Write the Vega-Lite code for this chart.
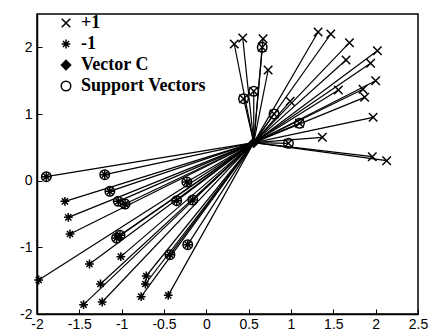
{
  "$schema": "https://vega.github.io/schema/vega-lite/v6.json",
  "width": 381,
  "height": 300,
  "autosize": {"type": "none"},
  "padding": {"left": 37, "top": 14, "right": 14, "bottom": 20},
  "background": "white",
  "config": {
    "view": {"stroke": "black", "strokeWidth": 1.5},
    "axis": {
      "grid": false,
      "domainColor": "black",
      "domainWidth": 1.5,
      "tickColor": "black",
      "tickSize": -5,
      "tickWidth": 1,
      "labelFont": "Liberation Sans",
      "labelFontSize": 14,
      "labelColor": "black",
      "labelOverlap": false,
      "labelBound": false,
      "labelFlush": false,
      "title": null
    },
    "legend": {
      "title": null,
      "orient": "none",
      "legendX": 20,
      "legendY": 0,
      "labelFont": "Liberation Serif",
      "labelFontSize": 18,
      "labelFontWeight": "bold",
      "labelColor": "black",
      "labelOffset": 6,
      "symbolStrokeWidth": 1.5,
      "rowPadding": 3
    }
  },
  "data": {
    "values": [
      {"x": 0.56, "y": 0.57, "cls": "Vector C", "sv": null},
      {"x": 0.33, "y": 2.05, "cls": "+1", "sv": null},
      {"x": 0.43, "y": 2.14, "cls": "+1", "sv": null},
      {"x": 0.67, "y": 2.13, "cls": "+1", "sv": null},
      {"x": 0.66, "y": 2.0, "cls": "+1", "sv": "Support Vectors"},
      {"x": 0.73, "y": 1.66, "cls": "+1", "sv": null},
      {"x": 1.32, "y": 2.23, "cls": "+1", "sv": null},
      {"x": 1.47, "y": 2.2, "cls": "+1", "sv": null},
      {"x": 1.69, "y": 2.07, "cls": "+1", "sv": null},
      {"x": 2.02, "y": 1.95, "cls": "+1", "sv": null},
      {"x": 1.65, "y": 1.81, "cls": "+1", "sv": null},
      {"x": 1.94, "y": 1.76, "cls": "+1", "sv": null},
      {"x": 2.0, "y": 1.5, "cls": "+1", "sv": null},
      {"x": 1.85, "y": 1.37, "cls": "+1", "sv": null},
      {"x": 1.87, "y": 1.25, "cls": "+1", "sv": null},
      {"x": 1.56, "y": 1.36, "cls": "+1", "sv": null},
      {"x": 1.97, "y": 0.95, "cls": "+1", "sv": null},
      {"x": 1.37, "y": 0.65, "cls": "+1", "sv": null},
      {"x": 1.96, "y": 0.36, "cls": "+1", "sv": null},
      {"x": 2.13, "y": 0.3, "cls": "+1", "sv": null},
      {"x": 0.99, "y": 1.19, "cls": "+1", "sv": null},
      {"x": 0.44, "y": 1.23, "cls": "+1", "sv": "Support Vectors"},
      {"x": 0.56, "y": 1.34, "cls": "+1", "sv": "Support Vectors"},
      {"x": 0.8, "y": 1.0, "cls": "+1", "sv": "Support Vectors"},
      {"x": 1.1, "y": 0.86, "cls": "+1", "sv": "Support Vectors"},
      {"x": 0.97, "y": 0.56, "cls": "+1", "sv": "Support Vectors"},
      {"x": -1.67, "y": -0.31, "cls": "-1", "sv": null},
      {"x": -1.63, "y": -0.55, "cls": "-1", "sv": null},
      {"x": -1.61, "y": -0.8, "cls": "-1", "sv": null},
      {"x": -1.38, "y": -1.25, "cls": "-1", "sv": null},
      {"x": -1.98, "y": -1.49, "cls": "-1", "sv": null},
      {"x": -1.01, "y": -1.14, "cls": "-1", "sv": null},
      {"x": -1.25, "y": -1.55, "cls": "-1", "sv": null},
      {"x": -1.45, "y": -1.86, "cls": "-1", "sv": null},
      {"x": -1.23, "y": -1.82, "cls": "-1", "sv": null},
      {"x": -0.71, "y": -1.43, "cls": "-1", "sv": null},
      {"x": -0.72, "y": -1.55, "cls": "-1", "sv": null},
      {"x": -0.77, "y": -1.74, "cls": "-1", "sv": null},
      {"x": -0.45, "y": -1.72, "cls": "-1", "sv": null},
      {"x": -1.89, "y": 0.06, "cls": "-1", "sv": "Support Vectors"},
      {"x": -1.2, "y": 0.09, "cls": "-1", "sv": "Support Vectors"},
      {"x": -1.14, "y": -0.16, "cls": "-1", "sv": "Support Vectors"},
      {"x": -1.04, "y": -0.31, "cls": "-1", "sv": "Support Vectors"},
      {"x": -0.96, "y": -0.35, "cls": "-1", "sv": "Support Vectors"},
      {"x": -1.06, "y": -0.86, "cls": "-1", "sv": "Support Vectors"},
      {"x": -1.02, "y": -0.82, "cls": "-1", "sv": "Support Vectors"},
      {"x": -0.23, "y": -0.02, "cls": "-1", "sv": "Support Vectors"},
      {"x": -0.35, "y": -0.3, "cls": "-1", "sv": "Support Vectors"},
      {"x": -0.16, "y": -0.29, "cls": "-1", "sv": "Support Vectors"},
      {"x": -0.43, "y": -1.11, "cls": "-1", "sv": "Support Vectors"},
      {"x": -0.22, "y": -0.96, "cls": "-1", "sv": "Support Vectors"}
    ]
  },
  "layer": [
    {
      "transform": [{"filter": "datum.cls != 'Vector C'"}],
      "mark": {"type": "rule", "color": "black", "strokeWidth": 1.2, "clip": true},
      "encoding": {
        "x": {"field": "x", "type": "quantitative", "scale": {"domain": [-2, 2.5], "nice": false, "zero": false},
          "axis": {"values": [-2, -1.5, -1, -0.5, 0, 0.5, 1, 1.5, 2, 2.5], "labelExpr": "toString(datum.value)", "labelPadding": 8}},
        "y": {"field": "y", "type": "quantitative", "scale": {"domain": [-2, 2.5], "nice": false, "zero": false},
          "axis": {"values": [-2, -1.5, -1, -0.5, 0, 0.5, 1, 1.5, 2, 2.5], "labelExpr": "toString(datum.value)", "labelPadding": 10}},
        "x2": {"datum": 0.56},
        "y2": {"datum": 0.57}
      }
    },
    {
      "transform": [
        {"fold": ["cls", "sv"], "as": ["key", "value"]},
        {"filter": "datum.value != null"}
      ],
      "mark": {"type": "point", "strokeWidth": 1.5, "opacity": 1},
      "encoding": {
        "x": {"field": "x", "type": "quantitative"},
        "y": {"field": "y", "type": "quantitative"},
        "shape": {
          "field": "value", "type": "nominal",
          "scale": {
            "domain": ["+1", "-1", "Vector C", "Support Vectors"],
            "range": ["M-1,-1L1,1M-1,1L1,-1", "M-1,0L1,0M0,-1L0,1M-0.7,-0.7L0.7,0.7M-0.7,0.7L0.7,-0.7", "diamond", "circle"]
          },
          "legend": {
            "encode": {"labels": {"update": {"font": {"value": "Liberation Serif"}, "fontWeight": {"value": "bold"}}}}
          }
        },
        "fill": {
          "field": "value", "type": "nominal",
          "scale": {
            "domain": ["+1", "-1", "Vector C", "Support Vectors"],
            "range": ["transparent", "transparent", "black", "transparent"]
          },
          "legend": {
            "encode": {"labels": {"update": {"font": {"value": "Liberation Serif"}, "fontWeight": {"value": "bold"}}}}
          }
        },
        "stroke": {
          "field": "value", "type": "nominal",
          "scale": {
            "domain": ["+1", "-1", "Vector C", "Support Vectors"],
            "range": ["black", "black", "black", "black"]
          },
          "legend": {
            "encode": {"labels": {"update": {"font": {"value": "Liberation Serif"}, "fontWeight": {"value": "bold"}}}}
          }
        },
        "size": {
          "field": "value", "type": "nominal",
          "scale": {
            "domain": ["+1", "-1", "Vector C", "Support Vectors"],
            "range": [72, 90, 100, 130]
          },
          "legend": {
            "encode": {"labels": {"update": {"font": {"value": "Liberation Serif"}, "fontWeight": {"value": "bold"}}}}
          }
        }
      }
    }
  ]
}
